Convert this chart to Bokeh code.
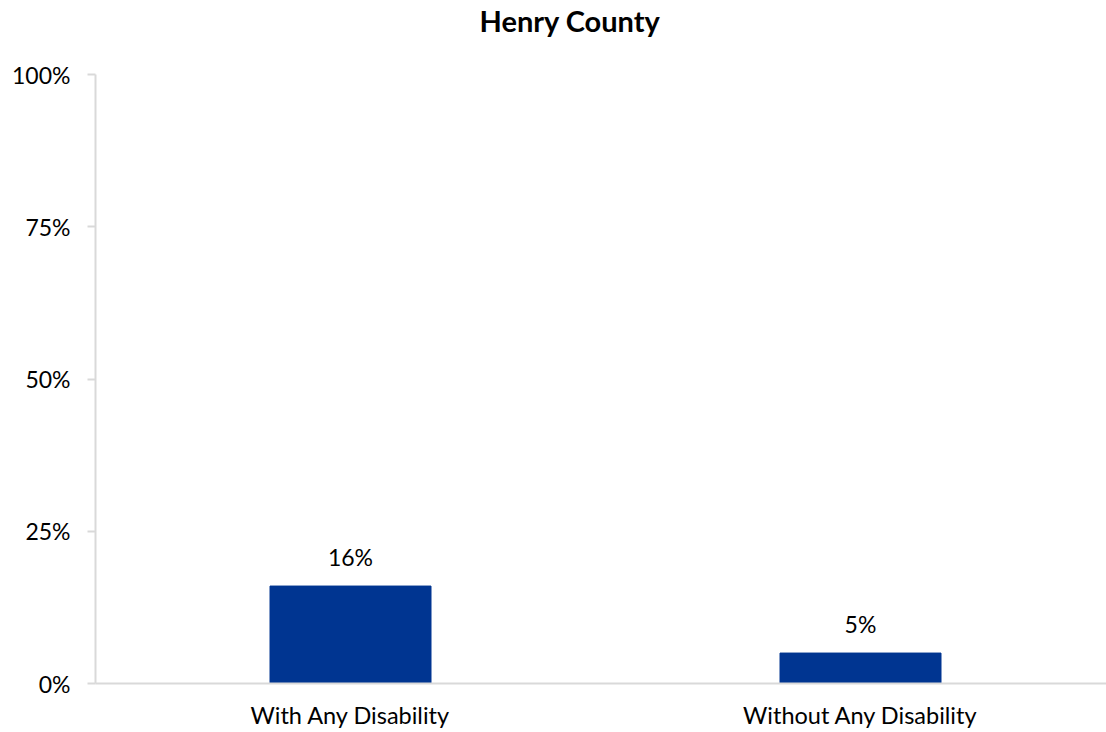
from bokeh.plotting import figure
from bokeh.models import (ColumnDataSource, Range1d, FixedTicker, NumeralTickFormatter,
                          LabelSet)
from bokeh.core.properties import value
from bokeh.embed import file_html
from bokeh.resources import INLINE

# ---- data ----
title_text = "Henry County"
categories = ["With Any Disability", "Without Any Disability"]
values = [0.16, 0.05]
value_labels = ["16%", "5%"]
y_ticks = [0, 0.25, 0.5, 0.75, 1.0]

FONT = "Lato"
BAR_COLOR = "#003591"
AXIS_COLOR = "#d9d9d9"
TEXT_COLOR = "#000000"

xs = [i + 0.5 for i in range(len(categories))]

src = ColumnDataSource(dict(x=xs, top=values, cat=categories, lab=value_labels))

p = figure(width=1106, height=732, output_backend="svg", toolbar_location=None,
           x_range=Range1d(0, 1011 / 510), y_range=Range1d(0, 1),
           min_border_left=95, min_border_right=0, min_border_top=74,
           min_border_bottom=49, title=title_text)
p.outline_line_color = None
p.background_fill_color = "white"
p.border_fill_color = "white"
p.xgrid.grid_line_color = None
p.ygrid.grid_line_color = None

# title
p.title.align = "left"
p.title.offset = 384
p.title.standoff = 0
p.title.padding = (0, 0, 0, 37)
p.title.text_font = FONT
p.title.text_font_size = "29px"
p.title.text_font_style = "bold"
p.title.text_color = TEXT_COLOR

p.vbar(x="x", top="top", width=161 / 510, source=src, color=BAR_COLOR)

# y axis
p.yaxis.ticker = FixedTicker(ticks=y_ticks)
p.yaxis.formatter = NumeralTickFormatter(format="0%")
p.yaxis.axis_line_color = AXIS_COLOR
p.yaxis.axis_line_width = 2
p.yaxis.major_tick_line_color = AXIS_COLOR
p.yaxis.major_tick_line_width = 2
p.yaxis.major_tick_out = 8
p.yaxis.major_tick_in = 0
p.yaxis.minor_tick_line_color = None
p.yaxis.major_label_standoff = 17
p.yaxis.major_label_text_font = FONT
p.yaxis.major_label_text_font_size = "23px"
p.yaxis.major_label_text_color = TEXT_COLOR

# x axis
p.xaxis.ticker = FixedTicker(ticks=xs)
p.xaxis.major_label_overrides = {x: c for x, c in zip(xs, categories)}
p.xaxis.axis_line_color = AXIS_COLOR
p.xaxis.axis_line_width = 2
p.xaxis.major_tick_line_color = None
p.xaxis.major_tick_out = 0
p.xaxis.major_tick_in = 0
p.xaxis.minor_tick_line_color = None
p.xaxis.major_label_standoff = 17
p.xaxis.major_label_text_font = FONT
p.xaxis.major_label_text_font_size = "23.5px"
p.xaxis.major_label_text_color = TEXT_COLOR

# value labels
p.add_layout(LabelSet(x="x", y="top", text="lab", source=src, y_offset=20,
                      text_align="center", text_baseline="alphabetic",
                      text_font=value(FONT), text_font_size=value("23px"),
                      text_color=TEXT_COLOR))

open("out.html", "w").write(file_html(p, INLINE))
